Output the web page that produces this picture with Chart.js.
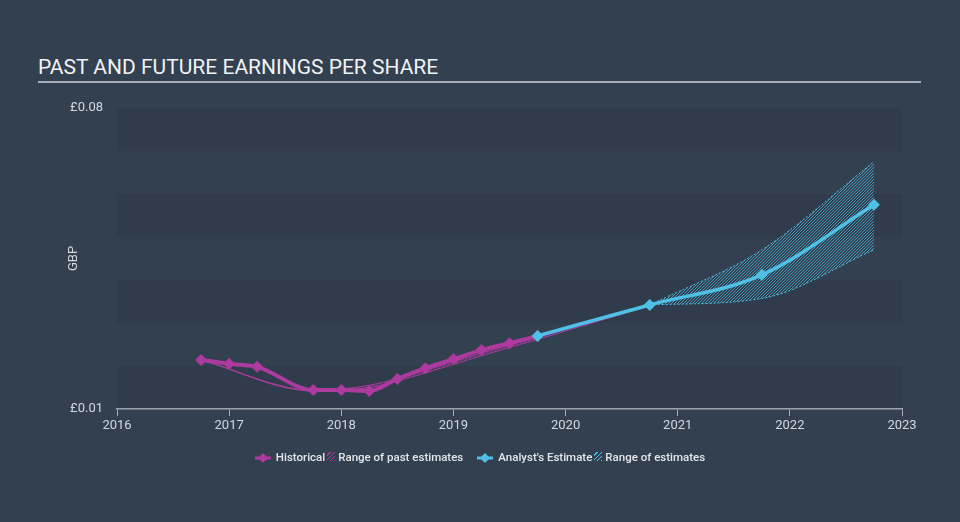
<!DOCTYPE html>
<html>
<head>
<meta charset="utf-8">
<script src="https://cdn.jsdelivr.net/npm/chart.js@4.4.0/dist/chart.umd.min.js"></script>
<style>
body{margin:0;width:960px;height:522px;background:#334050;font-family:Roboto,sans-serif;overflow:hidden;position:relative}
#title{position:absolute;left:38px;top:55px;font-size:21px;color:#f0f2f4}
#rule{position:absolute;left:38px;top:81px;width:883px;height:2px;background:#a6adb6}
#wrap{position:absolute;left:0;top:0;width:960px;height:522px}
#legend{position:absolute;top:449px;left:0;width:960px;text-align:center;font-size:11.5px;color:#e4e7ea;font-weight:500;white-space:nowrap}
#legend span{display:inline-block;vertical-align:middle}
.ico{width:16px;height:10px;margin-right:5px}
.hatch{width:8px;height:9px;margin:0 3px 0 2px}
</style>
</head>
<body>
<div id="title">PAST AND FUTURE EARNINGS PER SHARE</div>
<div id="rule"></div>
<div id="wrap"><canvas id="chart" width="960" height="522"></canvas></div>
<div id="legend">
  <span class="ico"><svg width="16" height="10"><line x1="0" y1="5" x2="16" y2="5" stroke="#ad3a9e" stroke-width="3"/><polygon points="8,0 13,5 8,10 3,5" fill="#ad3a9e"/></svg></span><span>Historical</span><span class="hatch" style="background:repeating-linear-gradient(135deg,transparent 0 2px,#ad3a9e 2px 3px)"></span><span>Range of past estimates</span><span style="width:14px"></span><span class="ico"><svg width="16" height="10"><line x1="0" y1="5" x2="16" y2="5" stroke="#4fc0e6" stroke-width="3"/><polygon points="8,0 13,5 8,10 3,5" fill="#4fc0e6"/></svg></span><span>Analyst's Estimate</span><span class="hatch" style="background:repeating-linear-gradient(135deg,transparent 0 2px,#4fc0e6 2px 3px)"></span><span>Range of estimates</span>
</div>
<script>
// historical EPS (GBP)
const histYears = [2016.75, 2017, 2017.25, 2017.75, 2018, 2018.25, 2018.5, 2018.75, 2019, 2019.25, 2019.5, 2019.75];
const histEps   = [0.0214, 0.0205, 0.0198, 0.0144, 0.0144, 0.0142, 0.0170, 0.0195, 0.0216, 0.0237, 0.0253, 0.0270];

// range of past estimates
const pastYears = [2016.75, 2017.75, 2018.25, 2018.75, 2019.25, 2019.75, 2020.75];
const pastLow   = [0.0214, 0.0142, 0.0150, 0.0184, 0.0224, 0.0262, 0.0340];
const pastHigh  = [0.0214, 0.0144, 0.0155, 0.0190, 0.0230, 0.0267, 0.0342];

// analyst estimates
const estYears = [2019.75, 2020.75, 2021.75, 2022.75];
const estEps   = [0.0270, 0.0342, 0.0412, 0.0575];

// range of estimates
const rangeYears = [2020.75, 2021.75, 2022.75];
const rangeLow   = [0.0342, 0.0357, 0.0470];
const rangeHigh  = [0.0342, 0.0470, 0.0675];

const xTicks = [2016, 2017, 2018, 2019, 2020, 2021, 2022, 2023];
const yLabels = {0.01: '£0.01', 0.08: '£0.08'};

const MAGENTA = '#ad3a9e';
const CYAN = '#4fc0e6';
const TXT = '#d3d8de';

function pts(xs, ys){ return xs.map((x, i) => ({x: x, y: ys[i]})); }

function hatch(color){
  const c = document.createElement('canvas');
  c.width = 3; c.height = 3;
  const g = c.getContext('2d');
  g.strokeStyle = color;
  g.lineWidth = 0.7;
  g.beginPath();
  g.moveTo(0, 3); g.lineTo(3, 0);
  g.moveTo(-1, 1); g.lineTo(1, -1);
  g.moveTo(2, 4); g.lineTo(4, 2);
  g.stroke();
  return g.createPattern(c, 'repeat');
}

const bands = {
  id: 'bands',
  beforeDatasetsDraw(chart){
    const {ctx, chartArea, scales} = chart;
    const y = scales.y;
    ctx.save();
    for(let i = 0; i < 7; i += 2){
      const v0 = 0.01 + i * 0.01, v1 = v0 + 0.01;
      const top = y.getPixelForValue(v1), bot = y.getPixelForValue(v0);
      ctx.fillStyle = 'rgba(0,0,0,0.06)';
      ctx.fillRect(chartArea.left, top, chartArea.right - chartArea.left, bot - top);
    }
    ctx.restore();
  }
};

const ctx = document.getElementById('chart').getContext('2d');
new Chart(ctx, {
  type: 'line',
  data: {
    datasets: [
      {
        label: 'Historical',
        data: pts(histYears, histEps),
        borderColor: MAGENTA, backgroundColor: MAGENTA,
        borderWidth: 4, pointStyle: 'rectRot', pointRadius: 6, pointBorderWidth: 0,
        cubicInterpolationMode: 'monotone', fill: false, order: 1
      },
      {
        label: "Analyst's Estimate",
        data: pts(estYears, estEps),
        borderColor: CYAN, backgroundColor: CYAN,
        borderWidth: 3.5, pointStyle: 'rectRot', pointRadius: 6, pointBorderWidth: 0,
        cubicInterpolationMode: 'monotone', fill: false, order: 0
      },
      {
        label: 'past low',
        data: pts(pastYears, pastLow),
        borderColor: MAGENTA, borderWidth: 1, pointRadius: 0,
        cubicInterpolationMode: 'monotone', fill: false, order: 3
      },
      {
        label: 'past high',
        data: pts(pastYears, pastHigh),
        borderColor: MAGENTA, borderWidth: 1, pointRadius: 0,
        backgroundColor: hatch(MAGENTA),
        cubicInterpolationMode: 'monotone', fill: '-1', order: 3
      },
      {
        label: 'range low',
        data: pts(rangeYears, rangeLow),
        borderColor: CYAN, borderWidth: 1, borderDash: [2, 2], pointRadius: 0,
        cubicInterpolationMode: 'monotone', fill: false, order: 2
      },
      {
        label: 'range high',
        data: pts(rangeYears, rangeHigh),
        borderColor: CYAN, borderWidth: 1, borderDash: [2, 2], pointRadius: 0,
        backgroundColor: hatch(CYAN),
        cubicInterpolationMode: 'monotone', fill: '-1', order: 2
      }
    ]
  },
  options: {
    responsive: false,
    animation: false,
    layout: {padding: {left: 60, right: 58, top: 108, bottom: 0}},
    plugins: {legend: {display: false}, tooltip: {enabled: false}},
    scales: {
      x: {
        type: 'linear', min: 2016, max: 2023,
        afterBuildTicks: s => { s.ticks = xTicks.map(v => ({value: v})); },
        afterFit: s => { s.height = 113; },
        grid: {drawOnChartArea: false, drawTicks: true, tickLength: 7, color: '#a6adb6'},
        border: {color: '#a6adb6', width: 1.5},
        ticks: {color: TXT, font: {family: 'Roboto', size: 13}, padding: 2, maxRotation: 0, callback: v => String(v)}
      },
      y: {
        min: 0.01, max: 0.08,
        afterBuildTicks: s => { s.ticks = [0.01, 0.08].map(v => ({value: v})); },
        afterFit: s => { s.width = 57; },
        grid: {display: false},
        border: {display: false},
        title: {display: true, text: 'GBP', color: TXT, font: {family: 'Roboto', size: 13}, padding: {top: 6, bottom: 0}},
        ticks: {color: TXT, font: {family: 'Roboto', size: 13}, padding: 6, callback: v => yLabels[Math.round(v * 100) / 100] || ''}
      }
    }
  },
  plugins: [bands]
});
</script>
</body>
</html>
